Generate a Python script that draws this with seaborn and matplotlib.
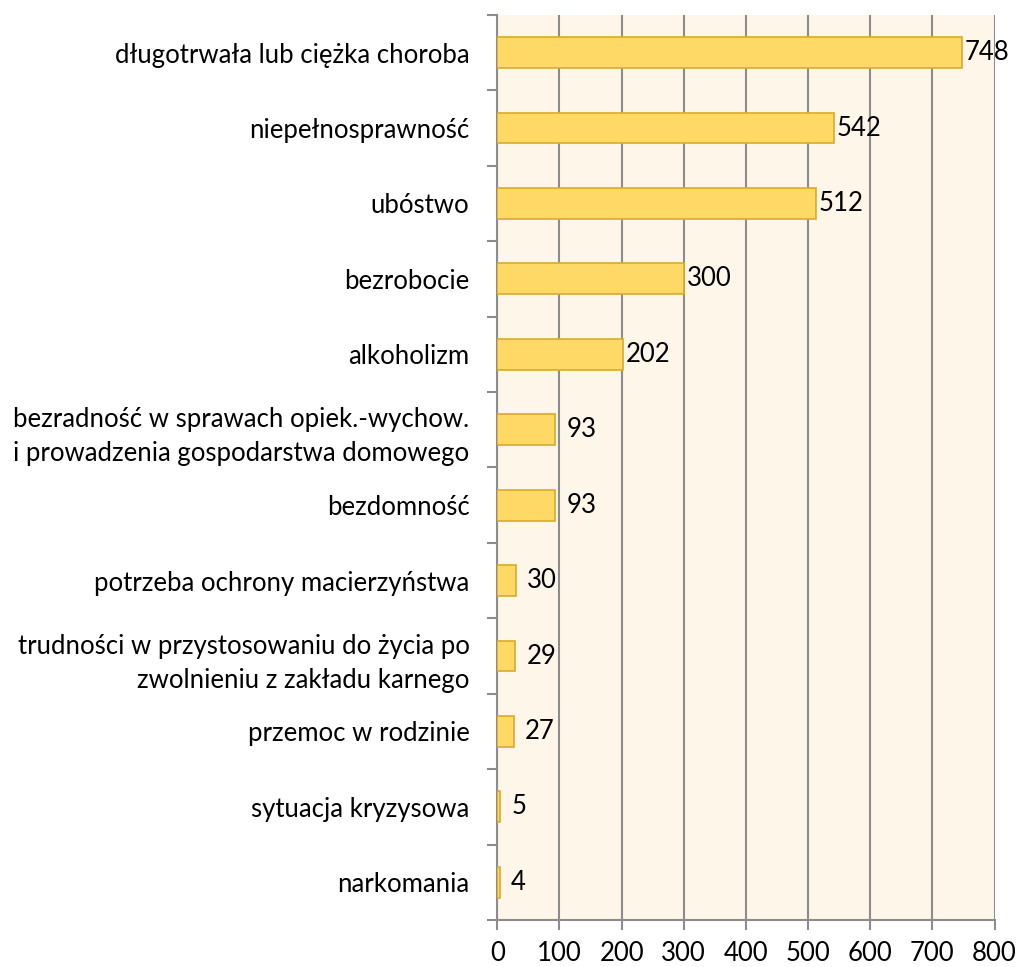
import numpy as np
import pandas as pd
import matplotlib
matplotlib.use("Agg")
import matplotlib.pyplot as plt
import seaborn as sns

categories = [
    "długotrwała lub ciężka choroba",
    "niepełnosprawność",
    "ubóstwo",
    "bezrobocie",
    "alkoholizm",
    "bezradność w sprawach opiek.-wychow.\ni prowadzenia gospodarstwa domowego",
    "bezdomność",
    "potrzeba ochrony macierzyństwa",
    "trudności w przystosowaniu do życia po\nzwolnieniu z zakładu karnego",
    "przemoc w rodzinie",
    "sytuacja kryzysowa",
    "narkomania",
]
values = [748, 542, 512, 300, 202, 93, 93, 30, 29, 27, 5, 4]
x_ticks = [0, 100, 200, 300, 400, 500, 600, 700, 800]

df = pd.DataFrame({"kategoria": categories, "liczba": values})

sns.set_style("white")
plt.rcParams["font.family"] = ["Lato", "DejaVu Sans"]
plt.rcParams["text.color"] = "black"
plt.rcParams["xtick.color"] = "black"
plt.rcParams["ytick.color"] = "black"

GRID = "#8c8c8c"
FS = 18.5
fig = plt.figure(figsize=(10.19, 9.67), dpi=100)
ax = fig.add_axes([0.488, 0.0486, 0.488, 0.936])
ax.set_facecolor("#fef6e9")

sns.barplot(data=df, x="liczba", y="kategoria", orient="h", ax=ax,
            color="#ffd966", edgecolor="#d9ab2c", linewidth=1.2,
            width=0.41, saturation=1, zorder=3)

for i, v in enumerate(values):
    ax.annotate(str(v), (v, i), xytext=(2 if v > 100 else 8, 0),
                textcoords="offset points", ha="left", va="center",
                fontsize=FS, color="black", zorder=4)

ax.set_xlim(0, 800)
ax.set_ylim(len(categories) - 0.5, -0.5)
ax.set_xticks(x_ticks)
ax.set_xticklabels([str(t) for t in x_ticks], fontsize=FS)
ax.set_yticks(range(len(categories)))
ax.set_yticklabels(categories, fontsize=FS, linespacing=1.45)
ax.set_yticks(np.arange(-0.5, len(categories), 1), minor=True)
ax.tick_params(axis="y", which="major", left=True, length=0, pad=20)
ax.tick_params(axis="y", which="minor", left=True, length=7, color=GRID,
               width=1.5, direction="out")
ax.tick_params(axis="x", bottom=True, length=7, color=GRID, width=1.5,
               direction="out", pad=8, labelcolor="black")
ax.set_xlabel("")
ax.set_ylabel("")

ax.grid(axis="x", color=GRID, linewidth=1.5, zorder=1)
ax.set_axisbelow(True)
for side in ["top", "right"]:
    ax.spines[side].set_visible(False)
for side in ["left", "bottom"]:
    ax.spines[side].set_color(GRID)
    ax.spines[side].set_linewidth(1.5)

fig.savefig("out.png", dpi=100)
